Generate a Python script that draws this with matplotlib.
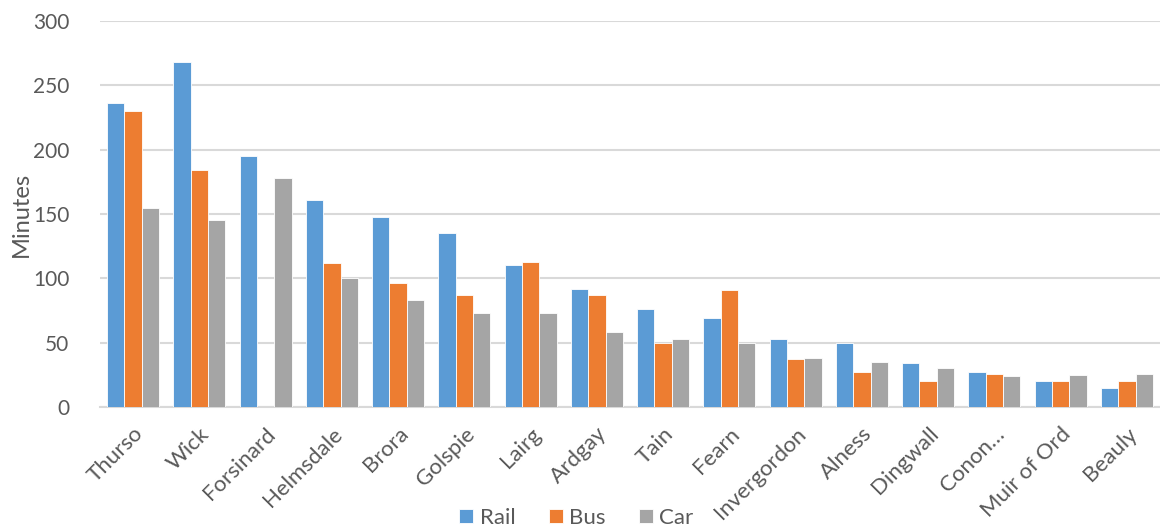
import numpy as np
import matplotlib
matplotlib.use("Agg")
import matplotlib.pyplot as plt

# data
towns = ["Thurso", "Wick", "Forsinard", "Helmsdale", "Brora", "Golspie",
         "Lairg", "Ardgay", "Tain", "Fearn", "Invergordon", "Alness",
         "Dingwall", "Conon…", "Muir of Ord", "Beauly"]
rail = [236, 268, 195, 161, 148, 135, 110, 92, 76, 69, 53, 50, 34, 27, 20, 15]
bus = [230, 184, 0, 112, 96, 87, 113, 87, 50, 91, 37, 27, 20, 26, 20, 20]
car = [155, 145, 178, 100, 83, 73, 73, 58, 53, 50, 38, 35, 30, 24, 25, 26]

RAIL_COLOR = "#5B9BD5"
BUS_COLOR = "#ED7D31"
CAR_COLOR = "#A5A5A5"
TEXT_COLOR = "#595959"
GRID_COLOR = "#D9D9D9"

plt.rcParams["font.family"] = ["Lato", "DejaVu Sans"]

fig = plt.figure(figsize=(11.6, 5.32), dpi=100)
ax = fig.add_axes([100 / 1160, 0.235, 1060 / 1160, 0.7255])

x = np.arange(len(towns))
w = 0.262
for off, vals, col, lab in [(-w, rail, RAIL_COLOR, "Rail"),
                            (0, bus, BUS_COLOR, "Bus"),
                            (w, car, CAR_COLOR, "Car")]:
    ax.bar(x + off, vals, width=w, color=col, label=lab,
           edgecolor="white", linewidth=0.6, zorder=3)

ax.set_xlim(-0.5, len(towns) - 0.5)
ax.set_ylim(0, 300)
ax.set_yticks(range(0, 301, 50))
ax.yaxis.grid(True, color=GRID_COLOR, linewidth=1.5, zorder=0)
ax.set_axisbelow(True)
for s in ["top", "right", "left"]:
    ax.spines[s].set_visible(False)
ax.spines["bottom"].set_color(GRID_COLOR)
ax.spines["bottom"].set_linewidth(1.5)

ax.tick_params(axis="y", length=0, pad=22, labelsize=15, labelcolor=TEXT_COLOR)
ax.tick_params(axis="x", length=0, pad=12, labelsize=16, labelcolor=TEXT_COLOR)
ax.set_xticks(x)
ax.set_xticklabels(towns, rotation=45, ha="right", va="top",
                   rotation_mode="anchor")

ax.set_ylabel("Minutes", fontsize=17, color=TEXT_COLOR)
ax.yaxis.set_label_coords(-0.064, 0.5)

fig.legend(loc="center", bbox_to_anchor=(0.497, 0.027), ncol=3,
           frameon=False, fontsize=16, labelcolor=TEXT_COLOR,
           handlelength=0.62, handleheight=0.62, handletextpad=0.3,
           columnspacing=1.5, borderaxespad=0, borderpad=0)

fig.savefig("out.png", dpi=100)
